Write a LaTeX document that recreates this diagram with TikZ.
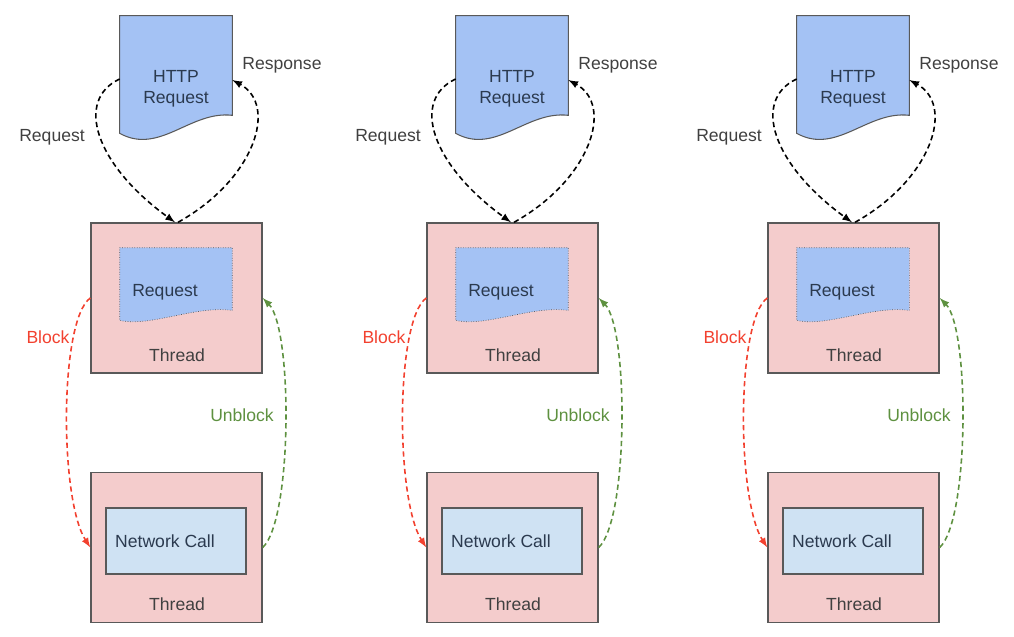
\documentclass[tikz,border=0pt]{standalone}
\usepackage{fontspec}
\setmainfont{Liberation Sans}

\definecolor{docblue}{HTML}{A4C2F4}
\definecolor{threadpink}{HTML}{F4CCCC}
\definecolor{callblue}{HTML}{CFE2F3}
\definecolor{edgegray}{HTML}{595959}
\definecolor{labelgray}{HTML}{404040}
\definecolor{docink}{HTML}{2B3A4F}
\definecolor{blockred}{HTML}{F2412F}
\definecolor{unblockgreen}{HTML}{5E9140}

\begin{document}
\begin{tikzpicture}[x=0.02cm,y=-0.02cm,>=latex,
    font=\fontsize{10}{12}\selectfont,
    docframe/.style={minimum width=2.24cm, inner sep=0pt},
    threadbox/.style={draw=edgegray, fill=threadpink, line width=0.8pt,
        minimum width=3.42cm, minimum height=3cm},
    callbox/.style={draw=edgegray, fill=callblue, line width=0.8pt,
        minimum width=2.8cm, minimum height=1.32cm},
    flow/.style={->, dash pattern=on 3pt off 2pt, line width=0.9pt},
    txt/.style={text=labelgray, inner sep=0pt}]

    \useasboundingbox (0,0) rectangle (1014,636);

    \foreach \i/\dx in {1/0, 2/336, 3/677}{
    \begin{scope}[xshift=\dx*0.02cm]

    % incoming document
    \node[docframe, minimum height=2.34cm] (http\i) at (176,74.5) {};
    \filldraw[fill=docblue, draw=edgegray, line width=0.6pt]
        (http\i.north west) -- (http\i.north east) -- ([yshift=0.36cm]http\i.south east)
        .. controls +(-42,-5) and +(40,22) .. (http\i.south west) -- cycle;
    \node[txt, text=docink, align=center] (httpt\i) at (176,89) {HTTP\\Request};

    % upper thread holding the request
    \node[threadbox] (thr\i) at (176.5,298) {};
    \node[docframe, minimum height=1.44cm] (treq\i) at (176,284) {};
    \filldraw[fill=docblue, draw=edgegray, densely dotted, thin]
        (treq\i.north west) -- (treq\i.north east) -- ([yshift=0.2cm]treq\i.south east)
        .. controls +(-37,-5) and +(30,7) .. (treq\i.south west) -- cycle;
    \node[txt, text=docink] (treqt\i) at (165,292) {Request};
    \node[txt] (thrt\i) at (177,355) {Thread};

    % lower thread doing the network call
    \node[threadbox] (thrb\i) at (176.5,547.5) {};
    \node[callbox] (net\i) at (176,541) {};
    \node[txt, text=docink] (nett\i) at (165,541) {Network Call};
    \node[txt] (thrbt\i) at (177,604) {Thread};

    % request / response
    \draw[flow] ([yshift=-0.09cm]http\i.west) .. controls +(-45,21) and +(-80,-58) ..
        ([xshift=-0.03cm]thr\i.north);
    \draw[flow] ([xshift=0.03cm]thr\i.north) .. controls +(77,-43) and +(46,25) ..
        ([yshift=-0.11cm]http\i.east);
    \node[txt] (lreq\i) at (52,137) {Request};
    \node[txt] (lres\i) at (282,65) {Response};

    % block / unblock
    \draw[flow, blockred] (thr\i.west) .. controls +(-31,22) and +(-31,-48) .. (thrb\i.west);
    \draw[flow, unblockgreen] (thrb\i.east) .. controls +(30,-28) and +(30,30) .. (thr\i.east);
    \node[txt, text=blockred] (lblk\i) at (48,337) {Block};
    \node[txt, text=unblockgreen] (lunb\i) at (242,415) {Unblock};

    \end{scope}
    }

\end{tikzpicture}
\end{document}
